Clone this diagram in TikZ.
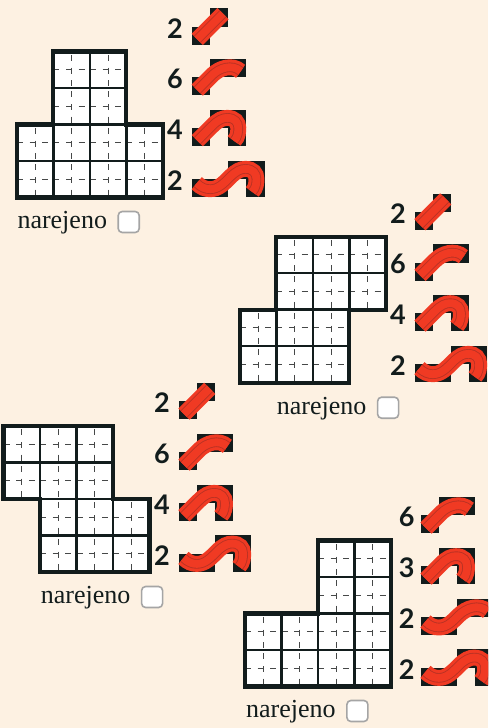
\documentclass[tikz,border=0pt]{standalone}
\usepackage{fontspec}
\setmainfont{Liberation Serif}
\newfontfamily\digitfont[Numbers=Lining]{Lato}
\definecolor{cPaper}{RGB}{253,241,226}
\definecolor{cInk}{RGB}{18,28,28}
\definecolor{cRed}{RGB}{240,58,35}
\definecolor{cRedD}{RGB}{186,50,36}
\definecolor{cMark}{RGB}{70,72,72}
\definecolor{cBoxE}{RGB}{165,165,165}

% ----- ribbon drawn three times: band, strands, core -------------------
\newcommand{\ribbon}[1]{%
  \draw[bandOut] #1;
  \draw[bandMid] #1;
  \draw[bandIn]  #1;}
\newcommand{\blacks}[1]{%
  \foreach \bx/\by in {#1} \fill[cInk] (\bx,\by) rectangle ++(1,1);}

% ----- the five tiles, in half-cell units ------------------------------
\newcommand{\tileA}{%
  \blacks{0/0,1/1}
  \ribbon{(0.29,0.29) -- (1.71,1.71)}}
\newcommand{\tileB}{%
  \blacks{0/0,1/1,2/1}
  \ribbon{(0.29,0.29) -- (1.1,1.1) .. controls (1.5,1.5) and (2.2,1.75) .. (2.68,1.32)}}
\newcommand{\tileC}{%
  \blacks{0/0,1/1,2/1,2/0}
  \ribbon{(0.29,0.29) -- (1.1,1.1) .. controls (1.45,1.45) and (1.7,1.55) .. (1.95,1.55)
    .. controls (2.35,1.55) and (2.55,1.3) .. (2.55,1.0)
    .. controls (2.55,0.8) and (2.54,0.5) .. (2.32,0.28)}}
\newcommand{\tileE}{%
  \blacks{0/0,1/0,2/1,3/1}
  \ribbon{(0.26,0.76) .. controls (0.5,0.52) and (0.75,0.43) .. (1,0.43)
    .. controls (1.45,0.43) and (1.75,0.75) .. (2.1,1.1)
    .. controls (2.5,1.5) and (3.2,1.75) .. (3.68,1.32)}}
\newcommand{\tileD}{%
  \blacks{0/0,1/0,2/1,3/1,3/0}
  \ribbon{(0.26,0.76) .. controls (0.5,0.52) and (0.75,0.43) .. (1,0.43)
    .. controls (1.45,0.43) and (1.75,0.75) .. (2.1,1.1)
    .. controls (2.45,1.45) and (2.7,1.55) .. (2.95,1.55)
    .. controls (3.35,1.55) and (3.55,1.3) .. (3.55,1.0)
    .. controls (3.55,0.8) and (3.54,0.5) .. (3.32,0.28)}}

% ----- board: top-left corner, cells, outline --------------------------
\newcommand{\board}[4]{%
  \begin{scope}[shift={(#1,#2)},x=36.5pt,y=-36.5pt]
    \foreach \cc/\rr in {#3} {
      \fill[white] (\cc,\rr) rectangle ++(1,1);
      \draw[markH] (\cc,\rr+0.5) -- ++(1,0);
      \draw[markV] (\cc+0.5,\rr) -- ++(0,1);
      \draw[cellEdge] (\cc,\rr) rectangle ++(1,1);
    }
    \draw[boardEdge] #4 -- cycle;
  \end{scope}}
\newcommand{\tiles}[4]{%
  \foreach \kind/\nr/\yy in {#4} {
    \node[countNr] (#1\kind\yy) at (#3,\yy-16.5) {\nr};
    \begin{scope}[shift={(#2,\yy)},x=18.15pt,y=18.15pt]
      \csname tile\kind\endcsname
    \end{scope}
  }}
\newcommand{\done}[3]{%
  \node[doneText] (#1t) at (#2,#3) {narejeno};
  \node[doneBox] (#1b) at (#2+111.4,#3-6.3) {};}

\begin{document}
\begin{tikzpicture}[
  x=1pt,y=-1pt,
  bandOut/.style  ={draw=cRed,  line width=15.9pt},
  bandMid/.style  ={draw=cRedD, line width=9.6pt},
  bandIn/.style   ={draw=cRed,  line width=7.8pt},
  markH/.style    ={draw=cMark, line width=1.1pt, dash pattern=on 6pt off 6.7pt},
  markV/.style    ={draw=cMark, line width=1.1pt, dash pattern=on 6pt off 6.7pt, dash phase=9.4pt},
  cellEdge/.style ={draw=cInk,  line width=2.6pt},
  boardEdge/.style={draw=cInk,  line width=4.2pt},
  countNr/.style  ={text=cInk, font=\digitfont\fontsize{27}{27}\selectfont\bfseries, inner sep=0pt},
  doneText/.style ={text=cInk, font=\fontsize{26}{26}\selectfont, anchor=base west, inner sep=0pt},
  doneBox/.style  ={draw=cBoxE, fill=white, line width=1.6pt, rounded corners=4pt,
                    minimum size=21pt, inner sep=0pt},
]
\useasboundingbox (0,0) rectangle (488,728);
\clip (0,0) rectangle (488,728);
\fill[cPaper] (0,0) rectangle (488,728);

% ----- first set -------------------------------------------------------
\board{16.8}{51.5}{1/0,2/0,1/1,2/1,0/2,1/2,2/2,3/2,0/3,1/3,2/3,3/3}
  {(1,0) -- (3,0) -- (3,2) -- (4,2) -- (4,4) -- (0,4) -- (0,2) -- (1,2)}
\tiles{one}{192}{175}{A/2/44.7,B/6/95.3,C/4/146,D/2/197}
\done{one}{17.3}{228.3}

% ----- second set ------------------------------------------------------
\board{239.8}{236.6}{1/0,2/0,3/0,1/1,2/1,3/1,0/2,1/2,2/2,0/3,1/3,2/3}
  {(1,0) -- (4,0) -- (4,2) -- (3,2) -- (3,4) -- (0,4) -- (0,2) -- (1,2)}
\tiles{two}{414.7}{398}{A/2/230,B/6/280.7,C/4/331.3,D/2/382}
\done{two}{276.7}{414}

% ----- third set -------------------------------------------------------
\board{3.5}{426}{0/0,1/0,2/0,0/1,1/1,2/1,1/2,2/2,3/2,1/3,2/3,3/3}
  {(0,0) -- (3,0) -- (3,2) -- (4,2) -- (4,4) -- (1,4) -- (1,2) -- (0,2)}
\tiles{three}{178.7}{162}{A/2/419.3,B/6/470.3,C/4/521,D/2/571.7}
\done{three}{40.7}{603.3}

% ----- fourth set ------------------------------------------------------
\board{245}{540.5}{2/0,3/0,2/1,3/1,0/2,1/2,2/2,3/2,0/3,1/3,2/3,3/3}
  {(2,0) -- (4,0) -- (4,4) -- (0,4) -- (0,2) -- (2,2)}
\tiles{four}{420.7}{406.7}{B/6/533.3,C/3/584.3,E/2/635.3,D/2/685.7}
\done{four}{246}{717.3}

\end{tikzpicture}
\end{document}
